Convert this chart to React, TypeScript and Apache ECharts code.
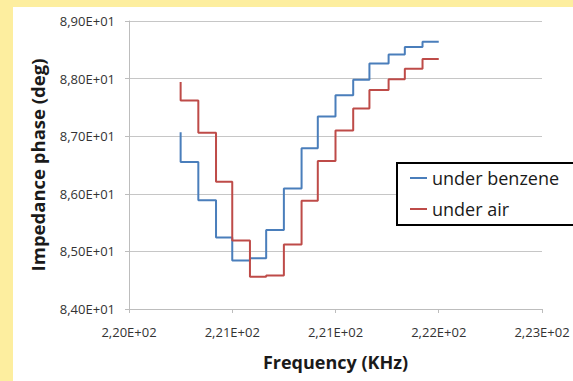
import React, { useEffect, useRef } from "react";
import * as echarts from "echarts";

// Frequencies (kHz) and the two impedance-phase readings (deg)
const freqs = [220.35, 220.47, 220.59, 220.70, 220.82, 220.93, 221.05, 221.17, 221.28, 221.40, 221.52, 221.63, 221.76, 221.87, 221.99, 222.10];
const benzene = [87.07, 86.55, 85.89, 85.24, 84.84, 84.88, 85.37, 86.09, 86.79, 87.34, 87.71, 87.98, 88.26, 88.42, 88.55, 88.64];
const air = [87.94, 87.62, 87.06, 86.21, 85.19, 84.56, 84.58, 85.12, 85.88, 86.57, 87.10, 87.48, 87.80, 87.99, 88.17, 88.34];

const seriesNames = ["under benzene", "under air"];
const xTickLabels = ["2,20E+02", "2,21E+02", "2,21E+02", "2,22E+02", "2,23E+02"];
const yTickLabels = ["8,40E+01", "8,50E+01", "8,60E+01", "8,70E+01", "8,80E+01", "8,90E+01"];

const X_MIN = 220;
const X_STEP = 0.7;
const Y_MIN = 84;
const Y_STEP = 1;

const FONT = "'Open Sans', 'Noto Sans', sans-serif";

export default function App() {
  const ref = useRef<HTMLDivElement>(null);

  useEffect(() => {
    if (!ref.current) return;
    const chart = echarts.init(ref.current, undefined, { renderer: "svg" });
    const pairs = (ys: number[]) => freqs.map((f, i) => [f, ys[i]]);
    chart.setOption({
      animation: false,
      backgroundColor: "transparent",
      textStyle: { fontFamily: FONT },
      grid: { left: 129, top: 21, width: 413, height: 288, containLabel: false },
      legend: {
        orient: "vertical",
        left: 397,
        top: 163,
        padding: [6, 60, 7, 13],
        borderColor: "#000",
        borderWidth: 2,
        backgroundColor: "#fff",
        itemWidth: 17,
        itemHeight: 2,
        itemGap: 13,
        icon: "rect",
        textStyle: { fontFamily: FONT, fontSize: 18, color: "#1a1a1a" },
        data: seriesNames,
      },
      xAxis: {
        type: "value",
        min: X_MIN,
        max: X_MIN + X_STEP * (xTickLabels.length - 1),
        interval: X_STEP,
        name: "Frequency (KHz)",
        nameLocation: "middle",
        nameGap: 44,
        nameTextStyle: { fontFamily: FONT, fontWeight: "bold", fontSize: 18, color: "#1a1a1a" },
        axisLine: { show: true, lineStyle: { color: "#BDBDBD", width: 1 } },
        axisTick: { show: true, length: 4, lineStyle: { color: "#BDBDBD" } },
        axisLabel: {
          margin: 16,
          fontFamily: FONT,
          fontSize: 13,
          color: "#333",
          formatter: (v: number) => xTickLabels[Math.round((v - X_MIN) / X_STEP)] ?? "",
        },
        splitLine: { show: false },
      },
      yAxis: {
        type: "value",
        min: Y_MIN,
        max: Y_MIN + Y_STEP * (yTickLabels.length - 1),
        interval: Y_STEP,
        name: "Impedance phase (deg)",
        nameLocation: "middle",
        nameRotate: 90,
        nameGap: 82,
        nameTextStyle: { fontFamily: FONT, fontWeight: "bold", fontSize: 18.5, color: "#1a1a1a" },
        axisLine: { show: true, lineStyle: { color: "#BDBDBD", width: 1 } },
        axisTick: { show: true, length: 4, lineStyle: { color: "#BDBDBD" } },
        axisLabel: {
          margin: 14,
          fontFamily: FONT,
          fontSize: 13,
          color: "#333",
          formatter: (v: number) => yTickLabels[Math.round((v - Y_MIN) / Y_STEP)] ?? "",
        },
        splitLine: { show: true, lineStyle: { color: "#C6C6C6", width: 1 } },
      },
      series: [
        {
          name: seriesNames[0],
          type: "line",
          step: "start",
          showSymbol: false,
          symbol: "none",
          data: pairs(benzene),
          itemStyle: { color: "#4A7EBB" },
          lineStyle: { color: "#4A7EBB", width: 2 },
        },
        {
          name: seriesNames[1],
          type: "line",
          step: "start",
          showSymbol: false,
          symbol: "none",
          data: pairs(air),
          itemStyle: { color: "#BE4B48" },
          lineStyle: { color: "#BE4B48", width: 2 },
        },
      ],
    });
    return () => chart.dispose();
  }, []);

  return (
    <div style={{ position: "fixed", left: 0, top: 0, width: 573, height: 381, background: "#FDEE9F", overflow: "hidden" }}>
      <div style={{ position: "absolute", left: 13, top: 7, width: 560, height: 374, background: "#FFFFFF" }} />
      <div ref={ref} style={{ position: "absolute", left: 0, top: 0, width: 573, height: 381 }} />
    </div>
  );
}
